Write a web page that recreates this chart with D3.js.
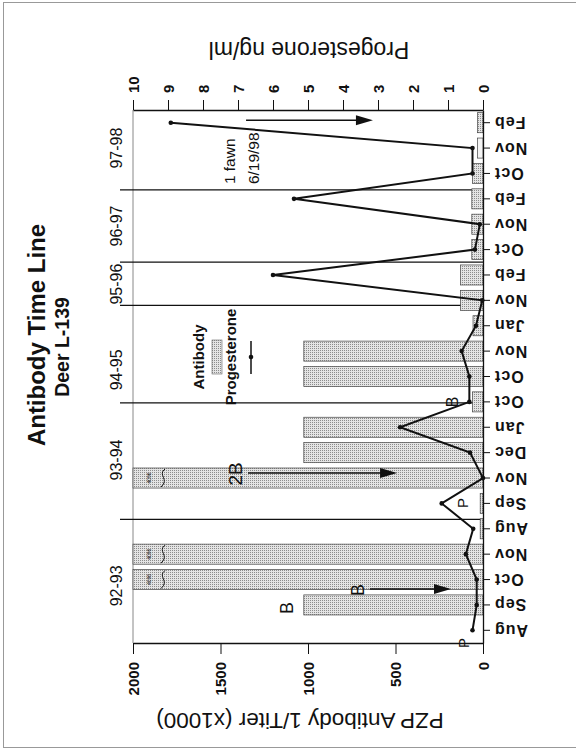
<!DOCTYPE html>
<html><head><meta charset="utf-8">
<script src="https://cdn.jsdelivr.net/npm/d3@7"></script>
<style>body{margin:0;background:#fff}svg{display:block;font-family:"Liberation Sans",Arial,sans-serif}</style>
</head><body><svg id="c" width="576" height="751"></svg>
<script>
// ---- data ----
const categories = ["Aug","Sep","Oct","Nov","Aug","Sep","Nov","Dec","Jan","Oct","Oct","Nov","Jan","Nov","Feb","Oct","Nov","Feb","Oct","Nov","Feb"];
const antibody = [0,1024,4096,4096,16,16,4096,1024,1024,60,1024,1024,57,128,128,64,64,64,60,32,32];
const progesterone = [0.3,0.18,0.18,0.49,0.28,1.18,0.0,0.37,2.37,0.39,0.39,0.61,0.2,0.02,6.0,0.23,0.09,5.4,0.3,0.3,8.92];
const antibodyTicks = [0,500,1000,1500,2000];
const progTicks = [0,1,2,3,4,5,6,7,8,9,10];
const seasons = ["92-93","93-94","94-95","95-96","96-97","97-98"];
const seasonPos = [2.25,7.21,10.76,14.14,16.43,19.5];
const seasonDividers = [4.87,9.46,13.30,15.01,17.85];
const outlinedOnly = [19];
const labelNotes = [
  {t:"P",u:0,v:114,s:15},{t:"B",u:1.38,v:1120,s:18},{t:"B",u:2.09,v:714,s:18},
  {t:"2B",u:6.66,v:1417,s:19},{t:"P",u:5.52,v:120,s:15},{t:"B",u:9.5,v:177,s:16}
];
const arrows = [{u:2.13,from:646,to:183},{u:6.7,from:1343,to:491},{u:20.6,from:1354,to:629}];

// ---- layout ----
const svg = d3.select("#c");
const X0 = 483, X1 = 133, YB = 643, YT = 110;
const idx = d3.range(categories.length);
const y = d3.scaleBand().domain(idx).range([YB, YT]).paddingInner(0.21).paddingOuter(0.105);
const u = d3.scaleLinear().domain([0, categories.length]).range([YB, YT]);
const xA = d3.scaleLinear().domain([0, 2000]).range([X0, X1]);
const xP = d3.scaleLinear().domain([0, 10]).range([X0, X1]);

// pattern
const defs = svg.append("defs");
const pat = defs.append("pattern").attr("id","dots").attr("width",2).attr("height",2).attr("patternUnits","userSpaceOnUse");
pat.append("rect").attr("width",2).attr("height",2).attr("fill","#e4e4e4");
pat.append("rect").attr("width",1).attr("height",1).attr("fill","#8c8c8c");

// page frame
svg.append("line").attr("x1",3.5).attr("x2",3.5).attr("y1",2).attr("y2",748).attr("stroke","#999");
svg.append("line").attr("x1",3).attr("x2",576).attr("y1",2.5).attr("y2",2.5).attr("stroke","#999");
svg.append("line").attr("x1",3).attr("x2",576).attr("y1",747.5).attr("y2",747.5).attr("stroke","#999");

function rtext(x, yy, ang, txt, size, opts={}) {
  return svg.append("text").attr("transform",`translate(${x},${yy}) rotate(${ang})`)
    .attr("text-anchor",opts.anchor||"middle").attr("dominant-baseline",opts.base||"central")
    .attr("font-size",size).attr("font-weight",opts.bold?"bold":"normal")
    .attr("letter-spacing",opts.ls||0).attr("fill","#111").text(txt);
}

// title
rtext(36, 335, -90, "Antibody Time Line", 24, {bold:true});
rtext(62, 347, -90, "Deer L-139", 19.5, {bold:true});

// left plot edge (gray)
svg.append("line").attr("x1",X1).attr("x2",X1).attr("y1",YT).attr("y2",YB).attr("stroke","#888").attr("stroke-width",1);

// season dividers
svg.selectAll(".div").data(seasonDividers).join("line")
  .attr("x1",120).attr("x2",X0).attr("y1",d=>u(d)).attr("y2",d=>u(d))
  .attr("stroke","#111").attr("stroke-width",1.3);

// season labels
seasons.forEach((s,i)=> rtext(116, u(seasonPos[i]), -90, s, 16));

// bars
svg.selectAll(".bar").data(idx).join("rect")
  .attr("x", i => xA(Math.min(antibody[i],2000)))
  .attr("width", i => xA(0) - xA(Math.min(antibody[i],2000)))
  .attr("y", i => y(i)).attr("height", y.bandwidth())
  .attr("fill", i => outlinedOnly.includes(i) ? "#f4f4f4" : "url(#dots)")
  .attr("stroke", i => antibody[i] > 0 ? "#444" : "none").attr("stroke-width",0.7);

// broken-bar marks
idx.filter(i => antibody[i] > 2000).forEach(i => {
  const yc = y(i) + y.bandwidth()/2, h = y.bandwidth();
  rtext(149, yc, -90, String(antibody[i]), 5);
  svg.append("path").attr("d",`M165,${yc-h/2+1} C157,${yc-3} 170,${yc+1} 161,${yc+h/2-1}`)
    .attr("fill","none").attr("stroke","#111").attr("stroke-width",1);
});

// axes
const axT = svg.append("g").attr("transform",`translate(0,${YT})`)
  .call(d3.axisTop(xP).tickValues(progTicks).tickSize(10).tickSizeOuter(0).tickFormat(d3.format("d")));
axT.selectAll("text").attr("transform","rotate(-90)").attr("x",17).attr("y",0).attr("dy","0.35em")
  .attr("text-anchor","start").attr("font-size",15).attr("font-weight","bold").attr("fill","#111");
const axB = svg.append("g").attr("transform",`translate(0,${YB})`)
  .call(d3.axisBottom(xA).tickValues(antibodyTicks).tickSize(11).tickSizeOuter(0).tickFormat(d3.format("d")));
axB.selectAll("text").attr("transform","rotate(-90)").attr("x",-19).attr("y",0).attr("dy","0.35em")
  .attr("text-anchor","end").attr("font-size",15).attr("font-weight","bold").attr("fill","#111");
const axR = svg.append("g").attr("transform",`translate(${X0},0)`)
  .call(d3.axisRight(y).tickSize(7).tickSizeOuter(0).tickFormat(i => categories[i]));
axR.selectAll("text").attr("transform","rotate(180)").attr("x",-11).attr("y",0).attr("dy",null)
  .attr("dominant-baseline","central").attr("text-anchor","end")
  .attr("font-size",16).attr("font-weight","bold").attr("letter-spacing",1).attr("fill","#111");
[axT,axB,axR].forEach(a=>{a.selectAll("path,line").attr("stroke","#111");a.select(".domain").attr("stroke-width",1.3);a.attr("font-family",null);});

// progesterone line
const line = d3.line().x(i => xP(progesterone[i])).y(i => y(i)+y.bandwidth()/2);
svg.append("path").datum(idx).attr("d",line).attr("fill","none").attr("stroke","#111").attr("stroke-width",2);
svg.selectAll(".pt").data(idx).join("circle").attr("cx",i=>xP(progesterone[i])).attr("cy",i=>y(i)+y.bandwidth()/2)
  .attr("r",2.3).attr("fill","#111");

// annotations
labelNotes.forEach(n => rtext(xA(n.v), u(n.u), -90, n.t, n.s));
arrows.forEach(a => {
  const yy = u(a.u), x1 = xA(a.from), x2 = xA(a.to);
  svg.append("line").attr("x1",x1).attr("x2",x2-14).attr("y1",yy).attr("y2",yy).attr("stroke","#111").attr("stroke-width",1.5);
  svg.append("path").attr("d",`M${x2},${yy} L${x2-17},${yy-5} L${x2-17},${yy+5}Z`).attr("fill","#111");
});
rtext(xA(1417), u(18.08), -90, "1 fawn", 15.5, {anchor:"start", base:"auto"});
rtext(xA(1280), u(18.08), -90, "6/19/98", 15.5, {anchor:"start", base:"auto"});

// legend
rtext(198, 357, -90, "Antibody", 15, {bold:true});
svg.append("rect").attr("x",212).attr("y",340).attr("width",10).attr("height",34).attr("fill","url(#dots)").attr("stroke","#666").attr("stroke-width",0.6);
rtext(230, 357, -90, "Progesterone", 15, {bold:true});
svg.append("line").attr("x1",251).attr("x2",251).attr("y1",341).attr("y2",374).attr("stroke","#111").attr("stroke-width",1.5);
svg.append("circle").attr("cx",251).attr("cy",357).attr("r",2.3).attr("fill","#111");

// axis titles (upside down)
rtext(309, 50, 180, "Progesterone ng/ml", 23);
rtext(300, 720, 180, "PZP Antibody 1/Titer (x1000)", 22.5);
</script></body></html>
